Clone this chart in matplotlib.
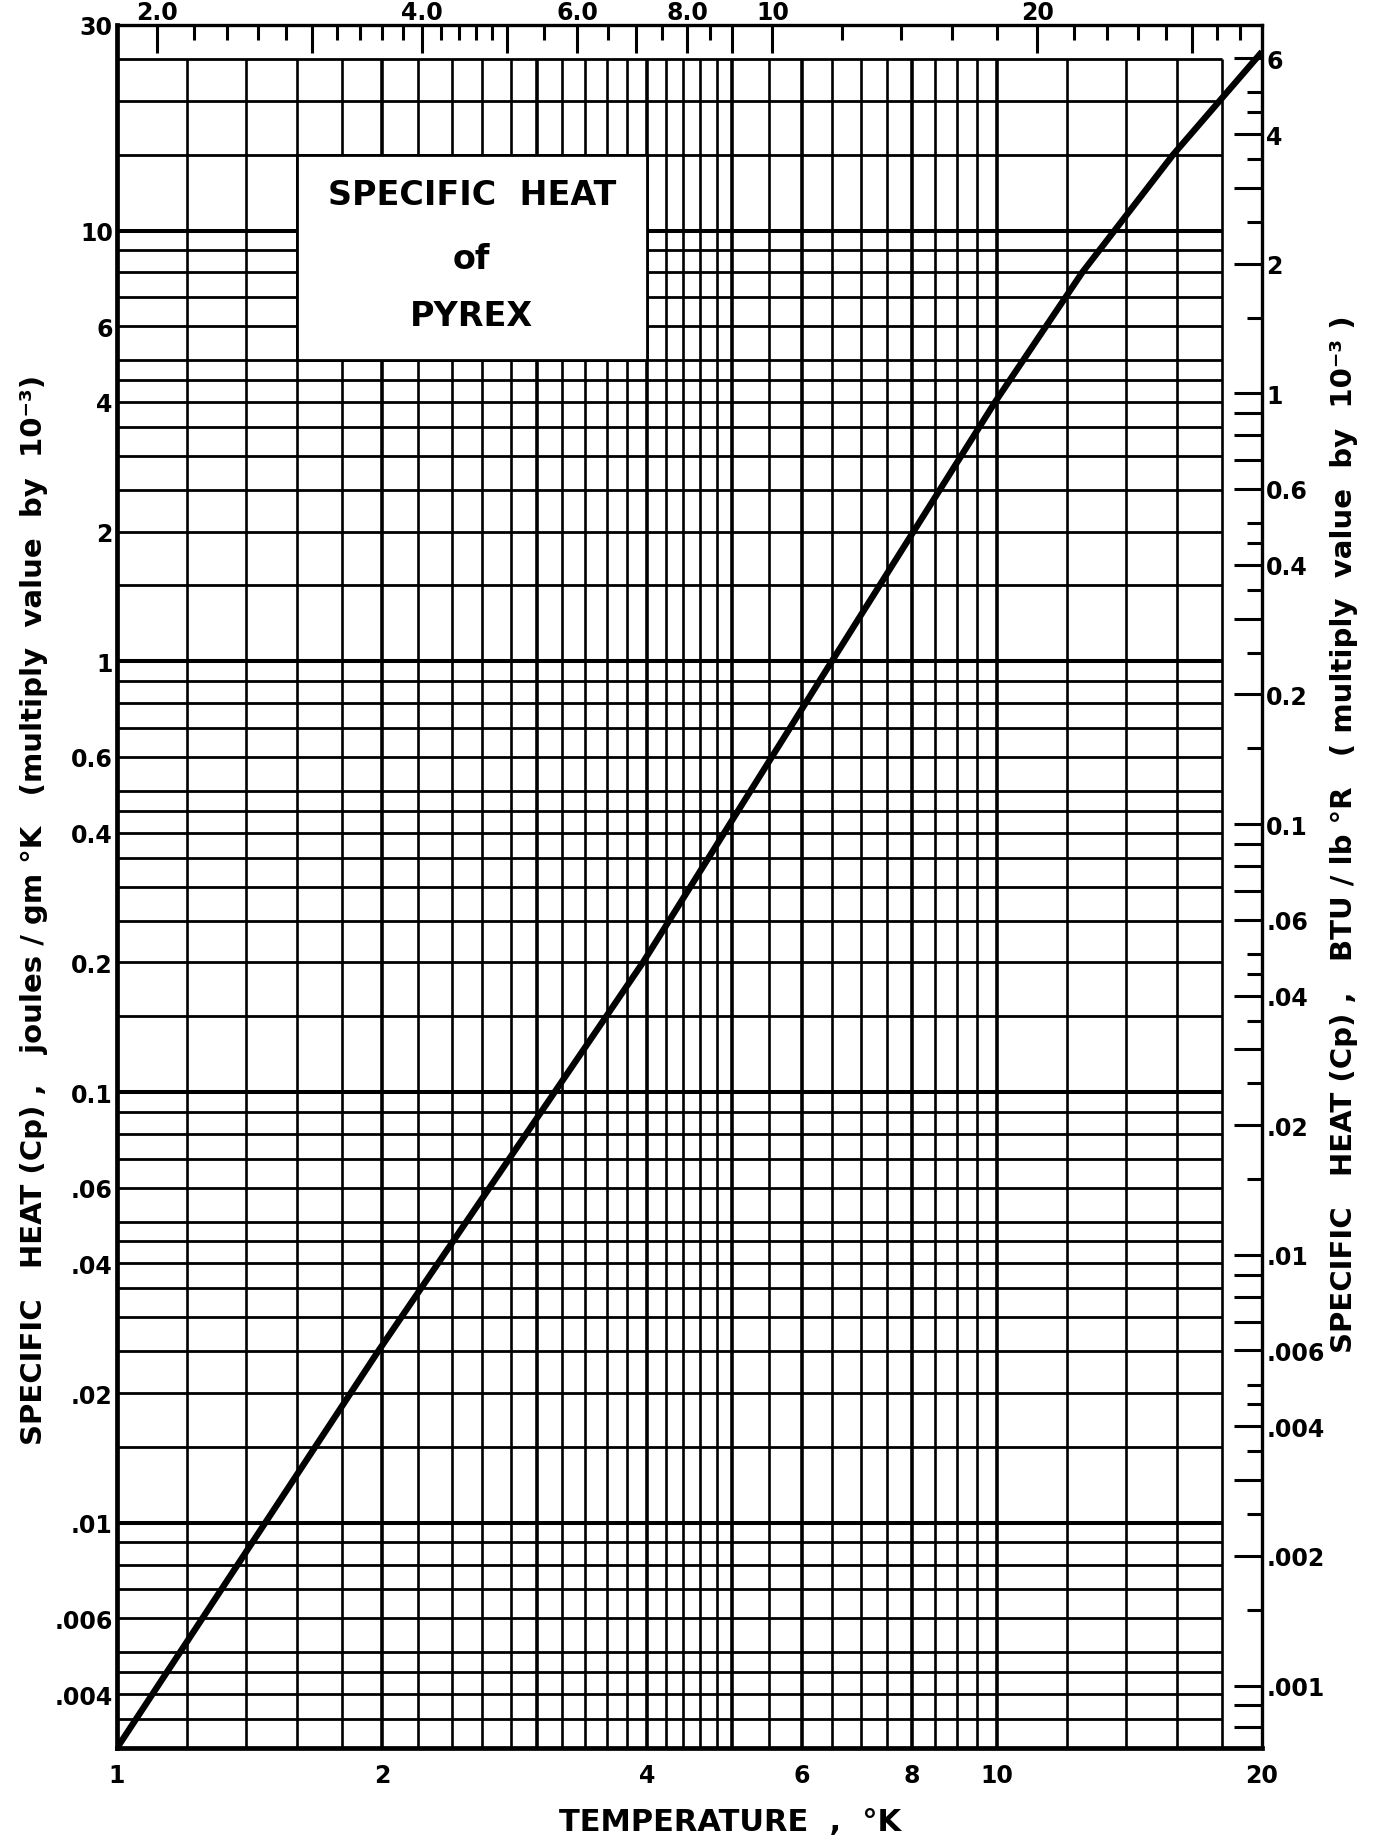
import numpy as np
import matplotlib.pyplot as plt
from matplotlib.patches import Rectangle
from matplotlib.ticker import NullLocator, NullFormatter

plt.rcParams['font.family'] = ['DejaVu Sans']
plt.rcParams['font.weight'] = 'bold'

# ---- curve: temperature (K) vs Cp (joules/gm K, x1e-3)
temp_k = [1.0, 1.98, 3.96, 6.49, 9.95, 12.5, 15.85, 20.0]
cp_joule = [0.003, 0.025, 0.2, 1.0, 4.0, 8.0, 15.0, 26.0]

# ---- axis ticks / labels
x_ticks = [1, 2, 4, 6, 8, 10, 20]
x_labels = ["1", "2", "4", "6", "8", "10", "20"]
y_ticks = [30, 10, 6, 4, 2, 1, 0.6, 0.4, 0.2, 0.1, 0.06, 0.04, 0.02, 0.01, 0.006, 0.004]
y_labels = ["30", "10", "6", "4", "2", "1", "0.6", "0.4", "0.2", "0.1",
            ".06", ".04", ".02", ".01", ".006", ".004"]

# top scale in deg Rankine
top_major = [2, 3, 4, 5, 6, 7, 8, 9, 10, 20, 30]
top_labels = ["2.0", "", "4.0", "", "6.0", "", "8.0", "", "10", "20", ""]
top_minor = [2.2, 2.4, 2.6, 2.8, 3.2, 3.4, 3.6, 3.8, 4.2, 4.4, 4.6, 4.8, 5.5, 6.5,
             7.5, 8.5, 12, 14, 16, 18, 22, 24, 26, 28, 32, 34]

# right scale in BTU/lb R
right_major = [0.0008, 0.0009, 0.001, 0.002, 0.003, 0.004, 0.006, 0.007, 0.008, 0.009,
               0.01, 0.02, 0.03, 0.04, 0.06, 0.07, 0.08, 0.09,
               0.1, 0.2, 0.3, 0.4, 0.6, 0.7, 0.8, 0.9, 1, 2, 3, 4, 6]
right_minor = [0.0015, 0.0025, 0.0035, 0.0045, 0.005,
               0.015, 0.025, 0.035, 0.045, 0.05,
               0.15, 0.25, 0.35, 0.45, 0.5,
               1.5, 2.5, 3.5, 4.5, 5]
right_label_vals = [6, 4, 2, 1, 0.6, 0.4, 0.2, 0.1, 0.06, 0.04, 0.02, 0.01,
                    0.006, 0.004, 0.002, 0.001]
right_labels = ["6", "4", "2", "1", "0.6", "0.4", "0.2", "0.1", ".06", ".04", ".02",
                ".01", ".006", ".004", ".002", ".001"]

# graph paper rulings
grid_x = [1.2, 1.4, 1.6, 1.8, 2.0, 2.2, 2.4, 2.6, 2.8, 3.0, 3.2, 3.4, 3.6, 3.8, 4.0,
          4.2, 4.4, 4.6, 4.8, 5.0, 5.5, 6, 6.5, 7, 7.5, 8, 8.5, 9, 9.5, 10,
          12, 14, 16, 18]
grid_x_heavy = [2, 3, 4, 5, 6, 8, 10]
grid_mant = [1, 1.5, 2, 2.5, 3, 3.5, 4, 4.5, 5, 6, 7, 8, 9]

J_TO_BTU = 0.23885
XMIN, XMAX, YMIN, YMAX = 1, 20, 0.003, 30
GRID_XMAX, GRID_YMAX = 18, 25

fig = plt.figure(figsize=(13.77, 18.49), dpi=100)
ax = fig.add_axes([117/1377, 100/1849, (1262-117)/1377, (1749-26)/1849])
ax.set_xscale('log')
ax.set_yscale('log')
ax.set_xlim(XMIN, XMAX)
ax.set_ylim(YMIN, YMAX)

# vertical rulings
for x in grid_x:
    lw = 2.6 if x in grid_x_heavy else 1.9
    ax.vlines(x, YMIN, GRID_YMAX, color='black', lw=lw, zorder=1)
# horizontal rulings
for e in range(-3, 2):
    for m in grid_mant:
        y = m * 10.0**e
        if y < YMIN * 0.999 or y > GRID_YMAX * 1.001:
            continue
        lw = 2.9 if m == 1 else 2.0
        ax.hlines(y, XMIN, GRID_XMAX, color='black', lw=lw, zorder=1)

# title box
ax.add_patch(Rectangle((1.6, 5), 2.4, 10, facecolor='white', edgecolor='black',
                       lw=2.0, zorder=2))
box_x = np.sqrt(1.6 * 4.0)
ax.text(box_x, 12.1, "SPECIFIC  HEAT", ha='center', va='center', fontsize=24, zorder=3)
ax.text(box_x, 8.6, "of", ha='center', va='center', fontsize=24, zorder=3)
ax.text(box_x, 6.35, "PYREX", ha='center', va='center', fontsize=24, zorder=3)

# curve
ax.plot(temp_k, cp_joule, color='black', lw=4.6, zorder=5, solid_capstyle='butt',
        solid_joinstyle='round')

ax.set_xticks(x_ticks)
ax.set_xticklabels(x_labels)
ax.xaxis.set_minor_locator(NullLocator())
ax.set_yticks(y_ticks)
ax.set_yticklabels(y_labels)
ax.yaxis.set_minor_locator(NullLocator())
ax.tick_params(axis='x', length=0, pad=11, labelsize=17)
ax.tick_params(axis='y', length=0, pad=3, labelsize=17)
ax.spines['left'].set_linewidth(3.4)
ax.spines['bottom'].set_linewidth(3.4)
ax.spines['top'].set_linewidth(2.4)
ax.spines['right'].set_linewidth(2.4)

# top axis (Rankine)
ax_top = ax.twiny()
ax_top.set_xscale('log')
ax_top.set_xlim(XMIN * 1.8, XMAX * 1.8)
ax_top.set_xticks(top_major)
ax_top.set_xticklabels(top_labels)
ax_top.set_xticks(top_minor, minor=True)
ax_top.xaxis.set_minor_formatter(NullFormatter())
ax_top.tick_params(axis='x', which='major', direction='in', length=20, width=2.2,
                   labelsize=17, pad=1)
ax_top.tick_params(axis='x', which='minor', direction='in', length=11, width=2.2)
for s in ax_top.spines.values():
    s.set_visible(False)

# right axis (BTU / lb R)
ax_r = ax.twinx()
ax_r.set_yscale('log')
ax_r.set_ylim(YMIN * J_TO_BTU, YMAX * J_TO_BTU)
ax_r.set_yticks(right_major)
ax_r.set_yticklabels([right_labels[right_label_vals.index(v)] if v in right_label_vals else ""
                      for v in right_major])
ax_r.set_yticks(right_minor, minor=True)
ax_r.yaxis.set_minor_formatter(NullFormatter())
ax_r.tick_params(axis='y', which='major', direction='in', length=20, width=2.2,
                 labelsize=17, pad=3)
ax_r.tick_params(axis='y', which='minor', direction='in', length=11, width=2.2)
for s in ax_r.spines.values():
    s.set_visible(False)

# axis titles
fig.text(0.530, 0.0146, "TEMPERATURE  ,  °K", ha='center', va='center', fontsize=22)
fig.text(0.025, 0.508, "SPECIFIC   HEAT (Cp) ,   joules / gm °K   (multiply  value  by  10⁻³)",
         rotation=90, ha='center', va='center', fontsize=21)
fig.text(0.976, 0.549, "SPECIFIC   HEAT (Cp) ,   BTU / lb °R   ( multiply  value  by  10⁻³ )",
         rotation=90, ha='center', va='center', fontsize=21)

fig.savefig("out.png", dpi=100, facecolor='white')
